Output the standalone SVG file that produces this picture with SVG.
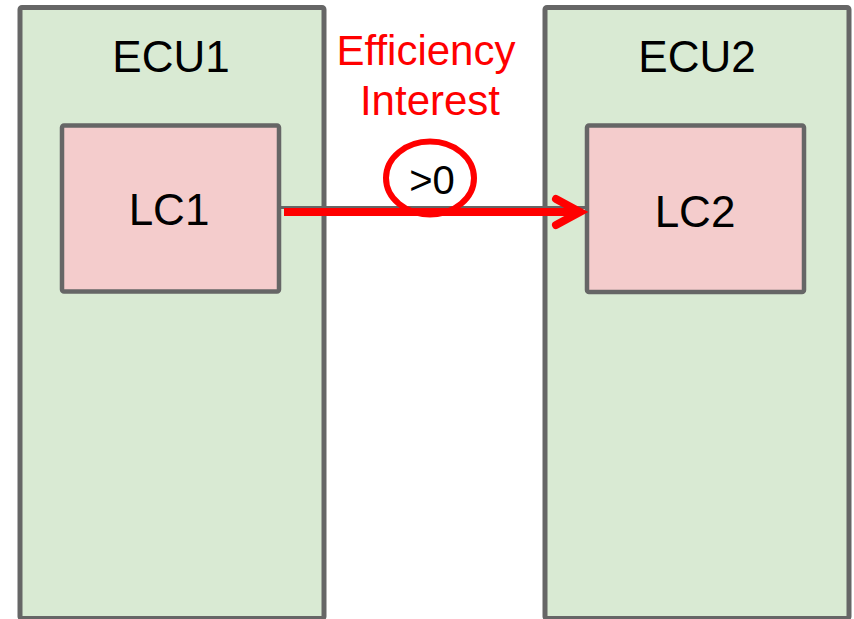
<svg xmlns="http://www.w3.org/2000/svg" width="854" height="619" viewBox="0 0 854 619">
<style>
.ecu{fill:#d9ead3;stroke:#666666;stroke-width:5}
.lc{fill:#f4cccc;stroke:#666666;stroke-width:4.5}
.t{font-family:"Liberation Sans",Arial,sans-serif;font-size:44px;fill:#000;text-anchor:middle}
.r{font-family:"Liberation Sans",Arial,sans-serif;font-size:42px;fill:#ff0000;text-anchor:middle}
</style>
<rect width="854" height="619" fill="#ffffff"/>
<g id="ecu1">
<rect class="ecu" x="20" y="7.5" width="304" height="611" rx="2"/>
<text class="t" x="171" y="72">ECU1</text>
</g>
<g id="ecu2">
<rect class="ecu" x="545" y="7.5" width="304" height="611" rx="2"/>
<text class="t" x="697" y="72">ECU2</text>
</g>
<g id="lc1">
<rect class="lc" x="62" y="125.5" width="217" height="166" rx="2"/>
<text class="t" x="169" y="225">LC1</text>
</g>
<g id="lc2">
<rect class="lc" x="587" y="125.5" width="217" height="166.5" rx="2"/>
<text class="t" x="695" y="227">LC2</text>
</g>
<g id="label">
<text class="r" x="426" y="65">Efficiency</text>
<text class="r" x="430" y="115">Interest</text>
</g>
<g id="connectors">
<line x1="279" y1="207.5" x2="587" y2="207.5" stroke="#666666" stroke-width="3"/>
<line x1="284" y1="212" x2="578" y2="212" stroke="#ff0000" stroke-width="8"/>
<polyline points="556,199 580,212 556,225" fill="none" stroke="#ff0000" stroke-width="8" stroke-linecap="round" stroke-linejoin="miter"/>
</g>
<g id="condition">
<ellipse cx="430" cy="178" rx="44" ry="36.5" fill="none" stroke="#ff0000" stroke-width="6"/>
<text x="432" y="194" font-family="Liberation Sans,Arial,sans-serif" font-size="40" fill="#000" text-anchor="middle">&gt;0</text>
</g>
</svg>
